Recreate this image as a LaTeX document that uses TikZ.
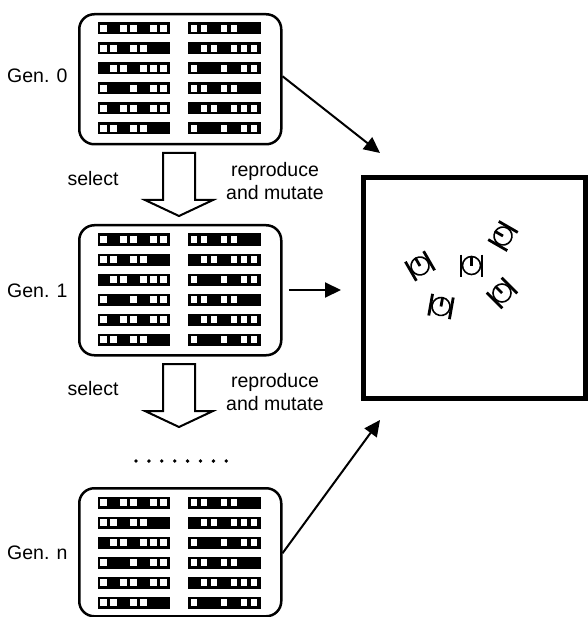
\documentclass[tikz,border=0pt]{standalone}
\usepackage{fontspec}
\setmainfont{Liberation Sans}
\usetikzlibrary{arrows.meta}

% one population of genomes: black bars with white gene squares
\newcommand\genpool[3]{%
  \node[popbox, anchor=north west, minimum width=202pt, minimum height=#3pt] (#1) at (78,#2) {};
  \begin{scope}[shift={(78,#2)}]
    \foreach \r/\cl in {0/{0,2,3,5,6},1/{0,1,3,4},2/{1,2,4,5,6},3/{0,3,5,6},4/{0,2,3,5,6},5/{0,1,3,4}} {
      \fill (19.5,9.5+20*\r) rectangle ++(72.5,12);
      \foreach \k in \cl {\fill[white] (22.3+10*\k,12.25+20*\r) rectangle ++(6.5,6.5);}
    }
    \foreach \r/\cl in {0/{0,1,3,4},1/{1,2,4,5,6},2/{0,3,5,6},3/{0,1,3,4},4/{1,2,4,5,6},5/{0,3,5,6}} {
      \fill (110,9.5+20*\r) rectangle ++(72.5,12);
      \foreach \k in \cl {\fill[white] (112.8+10*\k,12.25+20*\r) rectangle ++(6.5,6.5);}
    }
  \end{scope}}

% hollow downward block arrow with its top edge at the given height
\newcommand\selectarrow[1]{%
  \draw[blockarrow] (163,#1) -- (195,#1) -- (195,#1+47) -- (213,#1+47) -- (179,#1+63)
    -- (145,#1+47) -- (163,#1+47) -- cycle;}

\tikzset{
  robot/.pic={
    \draw[line width=1.6pt] (0,0) circle[radius=9pt];
    \draw[line width=2.8pt] (0,0) -- (0,-9.5);
    \draw[line width=2.8pt] (-10.5,-11) -- (-10.5,11) (10.5,-11) -- (10.5,11);
  }
}

\begin{document}
\begin{tikzpicture}[x=1pt,y=-1pt,
  popbox/.style={draw, line width=2.5pt, rounded corners=15pt, inner sep=0},
  genlabel/.style={font=\fontsize{19.5}{22}\selectfont, anchor=west, inner sep=0},
  oplabel/.style={font=\fontsize{19.5}{23.5}\selectfont, align=center, inner sep=0},
  flow/.style={line width=2pt, -{Triangle[length=16pt,width=15pt]}},
  blockarrow/.style={draw, line width=2pt, fill=white, line join=miter},
  world/.style={draw, line width=5pt, inner sep=0},
]
\useasboundingbox (0,0) rectangle (587,617);

% populations
\genpool{pool0}{13}{130}
\genpool{pool1}{224}{130}
\genpool{pooln}{487}{128}

\node[genlabel] (g0) at (7,76) {Gen. 0};
\node[genlabel] (g1) at (7,291) {Gen. 1};
\node[genlabel] (gn) at (7,553) {Gen. n};

% selection and variation steps
\selectarrow{153}
\selectarrow{364}
\node[oplabel] (sel1) at (93,179) {select};
\node[oplabel] (rep1) at (275,181) {reproduce\\and mutate};
\node[oplabel] (sel2) at (93,389) {select};
\node[oplabel] (rep2) at (275,392) {reproduce\\and mutate};

% further generations
\foreach \i in {0,...,7} \fill (136+12.9*\i,461) circle[radius=1.9pt];

% arena with robots
\node[world, anchor=north west, minimum width=222pt, minimum height=220.5pt] (arena) at (360.5,175.5) {};
\pic[rotate=30] at (420,266) {robot};
\pic at (471.5,265.5) {robot};
\pic[rotate=60] at (503,236) {robot};
\pic[rotate=-10] at (441,306.5) {robot};
\pic[rotate=45] at (502,293) {robot};

% evaluation arrows
\coordinate (t0) at (380,153);
\coordinate (s1) at (289,290);
\coordinate (t1) at (341,290);
\coordinate (tn) at (380,420);
\draw[flow] ([yshift=3pt]pool0.east) -- (t0);
\draw[flow] (s1) -- (t1);
\draw[flow] ([yshift=-1pt]pooln.east) -- (tn);
\end{tikzpicture}
\end{document}
